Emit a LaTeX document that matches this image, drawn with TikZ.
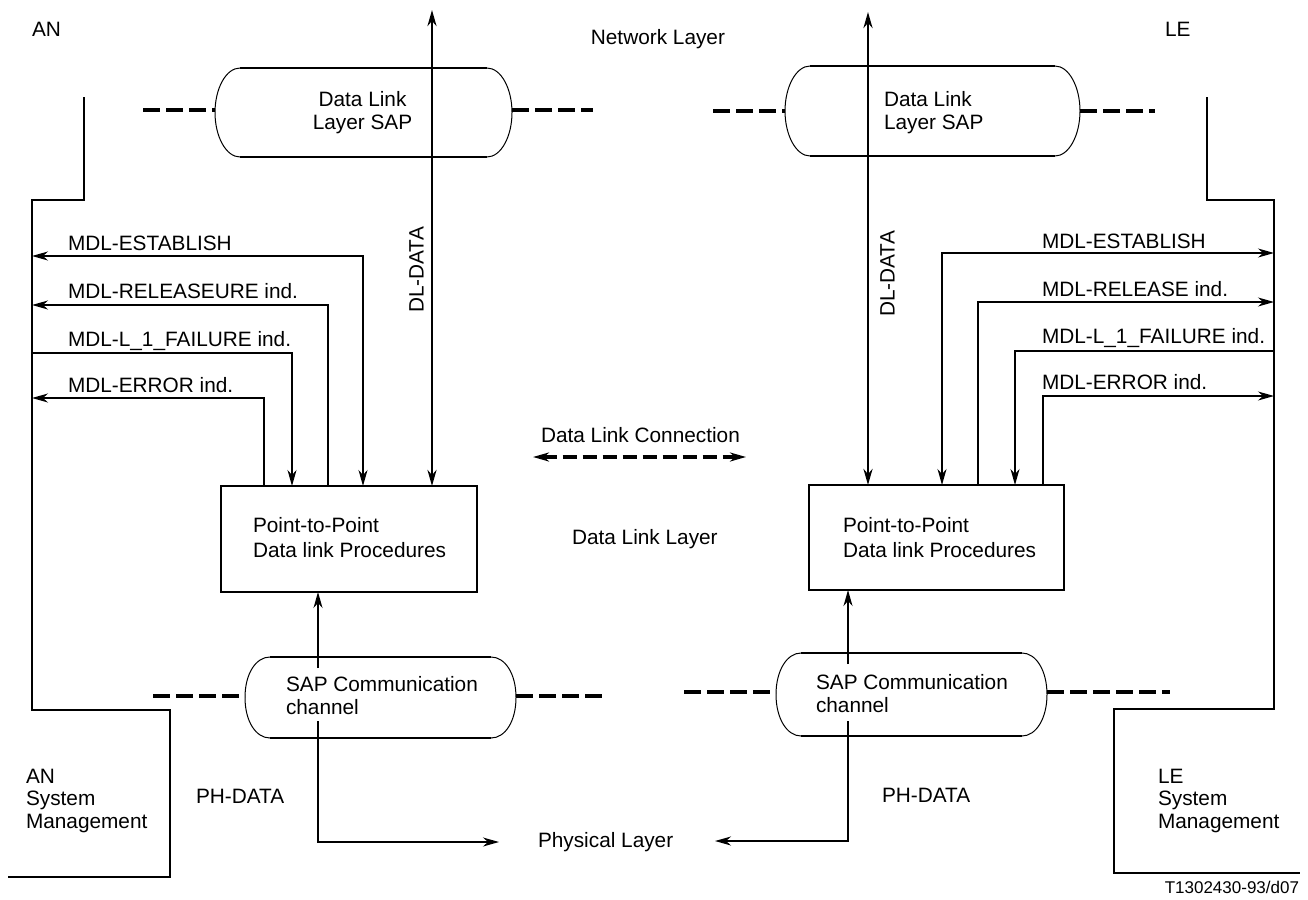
\documentclass[tikz,border=0pt]{standalone}
\usepackage{fontspec}
\setmainfont{Liberation Sans}
\usetikzlibrary{arrows.meta,calc}
\newcommand\capsuleshape[1]{%
  \draw[line width=1pt] ($(#1.north west)+(25,0)$) .. controls ($(#1.north west)+(11,0)$) and ($(#1.west)+(0,-24)$) .. (#1.west)
     .. controls ($(#1.west)+(0,24)$) and ($(#1.south west)+(11,0)$) .. ($(#1.south west)+(25,0)$);
  \draw[line width=1pt] ($(#1.north east)+(-25,0)$) .. controls ($(#1.north east)+(-11,0)$) and ($(#1.east)+(0,-24)$) .. (#1.east)
     .. controls ($(#1.east)+(0,24)$) and ($(#1.south east)+(-11,0)$) .. ($(#1.south east)+(-25,0)$);
  \draw[line width=2.2pt] ($(#1.north west)+(25,0)$) -- ($(#1.north east)+(-25,0)$);
  \draw[line width=2.2pt] ($(#1.south west)+(25,0)$) -- ($(#1.south east)+(-25,0)$);
}
\begin{document}
\begin{tikzpicture}[x=1pt,y=-1pt,
  every node/.style={inner sep=0pt, outer sep=0pt, font=\fontsize{20.8}{22.5}\selectfont},
  lbl/.style={anchor=base west},
  mlbl/.style={anchor=base west, align=left},
  capnode/.style={rectangle, draw=none, inner sep=0pt},
  thinln/.style={line width=1.3pt},
  thickln/.style={line width=2.5pt},
  dashln/.style={line width=3.4pt, dash pattern=on 17pt off 6pt},
  conn/.style={line width=3.4pt, dash pattern=on 14pt off 6pt},
  tip/.style={-{Stealth[length=16pt,width=9pt,inset=5pt]}},
  stip/.style={{Stealth[length=16pt,width=9pt,inset=5pt]}-},
  dtip/.style={{Stealth[length=16pt,width=9pt,inset=5pt]}-{Stealth[length=16pt,width=9pt,inset=5pt]}},
  procbox/.style={draw, line width=1.4pt, rectangle, anchor=north west},
]
\useasboundingbox (0,0) rectangle (1308,899);

% ---------- texts at top ----------
\node[lbl] (an) at (32,37) {AN};
\node[anchor=base east] (netl) at (725,45) {Network Layer};
\node[lbl] (le) at (1165,37) {LE};

% ---------- Data link layer SAP capsules ----------
\node[capnode, minimum width=297pt, minimum height=89pt] (sapL) at (363.5,112.5) {};
\capsuleshape{sapL}
\node[align=center, anchor=base] (sapLt) at (362.5,129) {Data Link\\Layer SAP};
\node[capnode, minimum width=295pt, minimum height=90pt] (sapR) at (932.5,111) {};
\capsuleshape{sapR}
\node[mlbl] (sapRt) at (884,129) {Data Link\\Layer SAP};

\coordinate (dA1) at (143,110);
\coordinate (dA2) at (593,110);
\coordinate (dB1) at (713,111);
\coordinate (dB2) at (1155,111);
\draw[dashln] (dA1) -- (dA1 -| sapL.west);
\draw[dashln] (dA2 -| sapL.east) -- (dA2);
\draw[dashln] (dB1) -- (dB1 -| sapR.west);
\draw[dashln] (dB2 -| sapR.east) -- (dB2);

% ---------- procedure boxes ----------
\node[procbox, minimum width=256pt, minimum height=106pt] (boxL) at (221,486) {};
\node[align=left, anchor=base west, font=\fontsize{20.8}{25}\selectfont] (boxLt) at (253,557) {Point-to-Point\\Data link Procedures};
\node[procbox, minimum width=255pt, minimum height=105pt] (boxR) at (809,485) {};
\node[align=left, anchor=base west, font=\fontsize{20.8}{25}\selectfont] (boxRt) at (843,557) {Point-to-Point\\Data link Procedures};

% ---------- DL-DATA ----------
\coordinate (nlL) at (432,10);
\coordinate (nlR) at (868,12);
\draw[thickln, dtip] (nlL) -- (nlL |- boxL.north);
\draw[thickln, dtip] (nlR) -- (nlR |- boxR.north);
\node[rotate=90] (dldL) at (416.5,270) {DL-DATA};
\node[rotate=90] (dldR) at (887.5,274) {DL-DATA};

% ---------- system management outlines ----------
\coordinate (smLa) at (84,97);
\coordinate (smLb) at (84,200);
\coordinate (smLc) at (32,200);
\coordinate (smLd) at (32,710);
\coordinate (smLe) at (170,710);
\coordinate (smLf) at (170,877);
\coordinate (smLg) at (8,877);
\draw[thinln] (smLa) -- (smLb) -- (smLc) -- (smLd) -- (smLe) -- (smLf) -- (smLg);
\coordinate (smRa) at (1207,97);
\coordinate (smRb) at (1207,200);
\coordinate (smRc) at (1274,200);
\coordinate (smRd) at (1274,709);
\coordinate (smRe) at (1114,709);
\coordinate (smRf) at (1114,873);
\coordinate (smRg) at (1300,873);
\draw[thinln] (smRa) -- (smRb) -- (smRc) -- (smRd) -- (smRe) -- (smRf) -- (smRg);

% ---------- MDL primitives, AN side ----------
\coordinate (lE) at (32,256);  \coordinate (lEc) at (363,256);
\coordinate (lR) at (32,305);  \coordinate (lRc) at (328,305);
\coordinate (lF) at (32,353);  \coordinate (lFc) at (292,353);
\coordinate (lX) at (32,398);  \coordinate (lXc) at (264,398);
\draw[thinln, dtip] (lE) -- (lEc) -- (lEc |- boxL.north);
\draw[thinln, stip] (lR) -- (lRc) -- (lRc |- boxL.north);
\draw[thinln, tip] (lF) -- (lFc) -- (lFc |- boxL.north);
\draw[thinln, stip] (lX) -- (lXc) -- (lXc |- boxL.north);
\node[lbl] (tlE) at (68,250) {MDL-ESTABLISH};
\node[lbl] (tlR) at (68,298) {MDL-RELEASEURE ind.};
\node[lbl] (tlF) at (68,346) {MDL-L\_1\_FAILURE ind.};
\node[lbl] (tlX) at (68,392) {MDL-ERROR ind.};

% ---------- MDL primitives, LE side ----------
\coordinate (rE) at (1274,253);  \coordinate (rEc) at (942,253);
\coordinate (rR) at (1274,302);  \coordinate (rRc) at (978,302);
\coordinate (rF) at (1274,351);  \coordinate (rFc) at (1015,351);
\coordinate (rX) at (1274,396);  \coordinate (rXc) at (1043,396);
\draw[thinln, dtip] (rE) -- (rEc) -- (rEc |- boxR.north);
\draw[thinln, stip] (rR) -- (rRc) -- (rRc |- boxR.north);
\draw[thinln, tip] (rF) -- (rFc) -- (rFc |- boxR.north);
\draw[thinln, stip] (rX) -- (rXc) -- (rXc |- boxR.north);
\node[lbl] (trE) at (1042,248) {MDL-ESTABLISH};
\node[lbl] (trR) at (1042,296) {MDL-RELEASE ind.};
\node[lbl] (trF) at (1042,343) {MDL-L\_1\_FAILURE ind.};
\node[lbl] (trX) at (1042,389) {MDL-ERROR ind.};

% ---------- middle labels ----------
\node[lbl] (dlc) at (541,442) {Data Link Connection};
\coordinate (dcL) at (533,457);
\coordinate (dcR) at (746,457);
\draw[conn, dtip] (dcL) -- (dcR);
\node[lbl] (dll) at (572,544) {Data Link Layer};

% ---------- SAP communication channel capsules ----------
\node[capnode, minimum width=271pt, minimum height=81pt] (chL) at (380.5,697.5) {};
\capsuleshape{chL}
\node[mlbl] (chLt) at (286,714) {SAP Communication\\channel};
\node[capnode, minimum width=271pt, minimum height=83pt] (chR) at (911.5,694.5) {};
\capsuleshape{chR}
\node[mlbl] (chRt) at (816,712) {SAP Communication\\channel};

\coordinate (dC1) at (153,696);
\coordinate (dC2) at (607,696);
\coordinate (dD1) at (684,692);
\coordinate (dD2) at (1170,692);
\draw[dashln] (dC1) -- (dC1 -| chL.west);
\draw[dashln] (dC2 -| chL.east) -- (dC2);
\draw[dashln] (dD1) -- (dD1 -| chR.west);
\draw[dashln] (dD2 -| chR.east) -- (dD2);

% ---------- channel to procedures ----------
\coordinate (uL) at (318,668);
\coordinate (uR) at (848,664);
\draw[thinln, tip] (uL) -- (uL |- boxL.south);
\draw[thinln, tip] (uR) -- (uR |- boxR.south);

% ---------- PH-DATA ----------
\node[lbl] (phys) at (538,847) {Physical Layer};
\coordinate (pL) at (318,721);
\coordinate (pLc) at (318,842);
\coordinate (pLe) at (499,842);
\draw[thinln, tip] (pL) -- (pLc) -- (pLe);
\coordinate (pR) at (848,721);
\coordinate (pRc) at (848,841);
\coordinate (pRe) at (715,841);
\draw[thinln, tip] (pR) -- (pRc) -- (pRe);
\node[lbl] (phL) at (196,803) {PH-DATA};
\node[lbl] (phR) at (882,802) {PH-DATA};

% ---------- system management labels ----------
\node[mlbl] (anSM) at (26,828) {AN\\System\\Management};
\node[mlbl] (leSM) at (1158,828) {LE\\System\\Management};

\node[anchor=base east, font=\fontsize{17}{20}\selectfont] (code) at (1299,893) {T1302430-93/d07};
\end{tikzpicture}
\end{document}
